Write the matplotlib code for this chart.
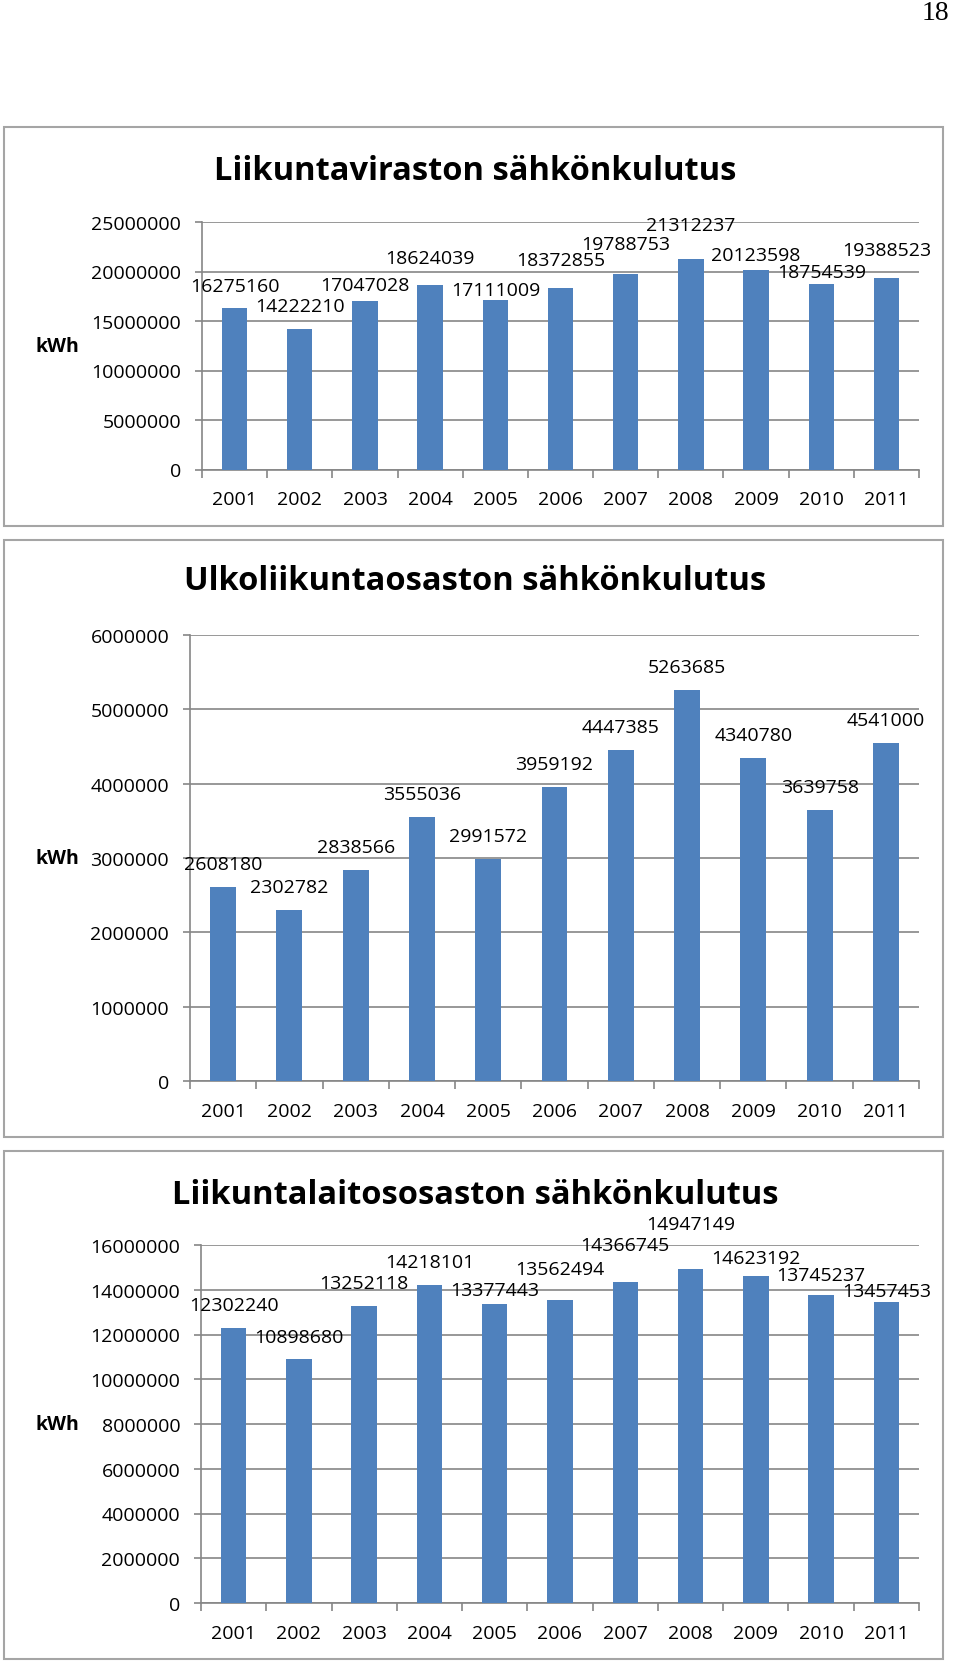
import matplotlib
matplotlib.use("Agg")
import matplotlib.pyplot as plt
from matplotlib.patches import Rectangle

plt.rcParams['font.family'] = ['Open Sans', 'DejaVu Sans']

# data
years = ['2001', '2002', '2003', '2004', '2005', '2006', '2007', '2008', '2009', '2010', '2011']

virasto = [16275160, 14222210, 17047028, 18624039, 17111009, 18372855,
           19788753, 21312237, 20123598, 18754539, 19388523]
ulko = [2608180, 2302782, 2838566, 3555036, 2991572, 3959192,
        4447385, 5263685, 4340780, 3639758, 4541000]
laitos = [12302240, 10898680, 13252118, 14218101, 13377443, 13562494,
          14366745, 14947149, 14623192, 13745237, 13457453]

titles = ['Liikuntaviraston sähkönkulutus',
          'Ulkoliikuntaosaston sähkönkulutus',
          'Liikuntalaitososaston sähkönkulutus']

# how far above the bar top each data label sits (pixels)
lift1 = [22, 23, 16, 27, 10, 28, 30, 34, 15, 12, 28]
lift2 = [23] * 11
lift3 = [23, 22, 23, 23, 14, 31, 37, 45, 18, 20, 11]

W, H = 960, 1665
BLUE = '#4F81BD'
GRID = '#868686'

fig = plt.figure(figsize=(W / 100, H / 100), dpi=100)


def px_axes(left, top, right, bottom):
    return fig.add_axes([left / W, 1 - bottom / H, (right - left) / W, (bottom - top) / H])


def frame(top, bottom):
    fig.patches.append(Rectangle((4 / W, 1 - bottom / H), 939 / W, (bottom - top) / H,
                                 transform=fig.transFigure, fill=False,
                                 edgecolor='#A5A5A5', linewidth=1.5))


def panel(ax, vals, lifts, ymax, step, title, title_y, kwh_y):
    x = list(range(len(vals)))
    ax.bar(x, vals, width=0.39, color=BLUE, zorder=3)
    ax.set_xlim(-0.5, len(vals) - 0.5)
    ax.set_ylim(0, ymax)
    ax.set_yticks(range(0, ymax + 1, step))
    ax.set_yticklabels([str(v) for v in range(0, ymax + 1, step)])
    ax.set_xticks(x)
    ax.set_xticklabels(years)
    ax.set_xticks([i - 0.5 for i in range(len(vals) + 1)], minor=True)
    ax.grid(axis='y', color=GRID, linewidth=1.2, zorder=0)
    for s in ['top', 'right']:
        ax.spines[s].set_visible(False)
    for s in ['left', 'bottom']:
        ax.spines[s].set_color(GRID)
        ax.spines[s].set_linewidth(1.2)
    ax.tick_params(axis='x', which='major', length=0, pad=15, labelsize=14)
    ax.tick_params(axis='x', which='minor', length=6, color=GRID, width=1.2)
    ax.tick_params(axis='y', length=5, color=GRID, width=1.2, pad=10, labelsize=14)
    for i, v in enumerate(vals):
        ax.annotate(str(v), (i, v), xytext=(0, lifts[i]), textcoords='offset pixels',
                    ha='center', va='center', fontsize=14, annotation_clip=False)
    fig.text(475 / W, 1 - title_y / H, title, ha='center', va='center',
             fontsize=23.5, fontweight='bold')
    fig.text(57 / W, 1 - kwh_y / H, 'kWh', ha='center', va='center',
             fontsize=14, fontweight='bold')


frame(128, 527)
frame(541, 1138)
frame(1152, 1660)

ax1 = px_axes(202, 223, 919, 470.5)
panel(ax1, virasto, lift1, 25000000, 5000000, titles[0], 172, 347)

ax2 = px_axes(190, 636, 919, 1082)
panel(ax2, ulko, lift2, 6000000, 1000000, titles[1], 582, 859)

ax3 = px_axes(201, 1246, 919, 1604)
panel(ax3, laitos, lift3, 16000000, 2000000, titles[2], 1196, 1425)

fig.text(935 / W, 1 - 13 / H, '18', ha='center', va='center', fontsize=20,
         family=['Liberation Serif', 'DejaVu Serif'])

fig.savefig('out.png', dpi=100)
